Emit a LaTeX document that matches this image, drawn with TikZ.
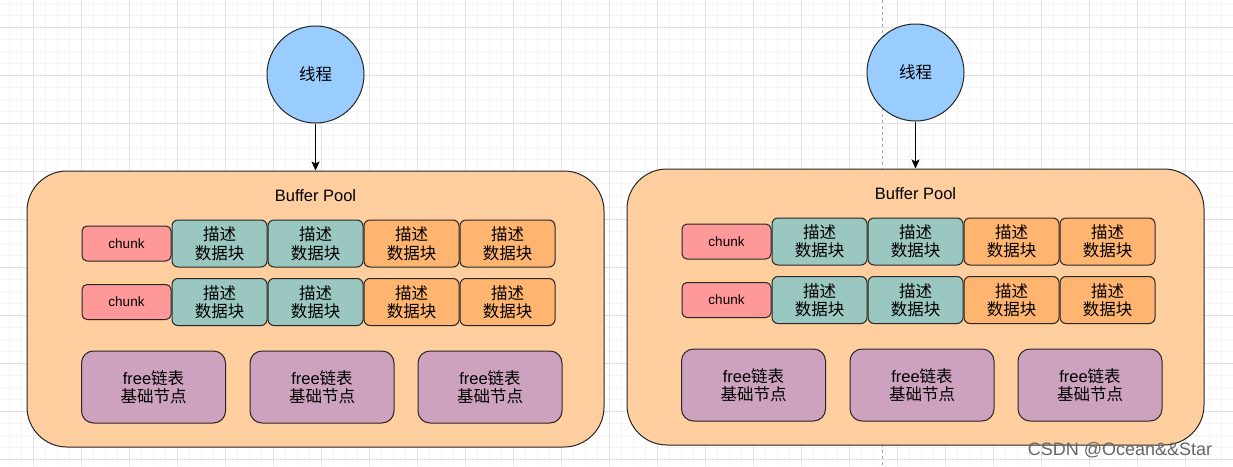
\documentclass[tikz,border=0pt]{standalone}
\usepackage{fontspec}
\setmainfont{Liberation Sans}
\newfontfamily\cjk{Noto Sans CJK SC}
\usepackage{xcolor}
\usepackage{tikz}
\usetikzlibrary{arrows.meta, positioning, calc}

\definecolor{poolfill}{HTML}{FFCE9F}
\definecolor{threadfill}{HTML}{99CCFF}
\definecolor{chunkfill}{HTML}{FF9999}
\definecolor{tealfill}{HTML}{9AC7BF}
\definecolor{orangefill}{HTML}{FFB570}
\definecolor{freefill}{HTML}{CDA2BE}

\begin{document}
\begin{tikzpicture}[
	  x=1pt, y=-1pt,
	  font=\fontsize{16.5}{18.5}\selectfont,
	  outline/.style={draw=black!85, line width=1pt},
	  thread/.style={outline, circle, fill=threadfill, minimum size=97pt, inner sep=0pt, font=\cjk\fontsize{16.5}{18.5}\selectfont},
	  pool/.style={outline, rounded corners=40pt, fill=poolfill, minimum width=577pt, minimum height=276pt},
	  chunk/.style={outline, rounded corners=5pt, fill=chunkfill, minimum width=89pt, minimum height=35pt, inner sep=0pt, font=\fontsize{13.5}{16}\selectfont},
	  desc/.style={outline, rounded corners=6pt, minimum width=95pt, minimum height=47pt, inner sep=0pt, align=center, font=\cjk\fontsize{16.5}{18.5}\selectfont},
	  freebox/.style={outline, rounded corners=12pt, fill=freefill, minimum width=144pt, minimum height=72pt, inner sep=0pt, align=center},
	  minorline/.style={draw=black!4, line width=0.8pt},
	  majorline/.style={draw=black!12, line width=0.8pt},
	  arrow/.style={-{Stealth[length=9pt, width=8pt, inset=2pt]}, line width=1pt}
	]
	
	\useasboundingbox[fill=white] (0,0) rectangle (1233,466);
	
	% background grid
	\foreach \g in {0,...,102} \draw[minorline] ({9.3+12*\g},0) -- ({9.3+12*\g},466);
	\foreach \g in {0,...,38} \draw[minorline] (0,{3.3+12*\g}) -- (1233,{3.3+12*\g});
	\foreach \g in {0,...,25} \draw[majorline] ({33.3+48*\g},0) -- ({33.3+48*\g},466);
	\foreach \g in {0,...,9} \draw[majorline] (0,{27.3+48*\g}) -- (1233,{27.3+48*\g});
	\draw[black!35, dash pattern=on 3pt off 3pt] (882.3,0) -- (882.3,466);
	
	% two buffer pools
	\foreach \p/\dx/\dy in {l/0/0, r/600/-2} {
	  \begin{scope}[shift={(\dx,\dy)}]
	    \node[thread] (thread\p) at (315.5,74.5) {线程};
	    \node[pool] (pool\p) at (315.5,309) {};
	    \node (title\p) at (315.5,196) {Buffer Pool};
	    \draw[arrow] (thread\p) -- (pool\p.north);
	
	    \foreach \r/\ry in {1/243.5, 2/302} {
	      \node[chunk] (chunk\p\r) at (126.5,\ry) {chunk};
	      \foreach \c/\cx/\col in {1/219.5/tealfill, 2/315.5/tealfill, 3/411.5/orangefill, 4/507.5/orangefill}
	        \node[desc, fill=\col] (desc\p\r\c) at (\cx,\ry) {描述\\数据块};
	    }
	
	    \foreach \f/\fx in {1/153.5, 2/322, 3/490}
	      \node[freebox] (free\p\f) at (\fx,387) {free{\cjk 链表}\\{\cjk 基础节点}};
	  \end{scope}
	}
	
	\node[text=black!60, font=\fontsize{18}{20}\selectfont] (mark) at (1120,450) {CSDN @Ocean\&\&Star};
	
\end{tikzpicture}
\end{document}
